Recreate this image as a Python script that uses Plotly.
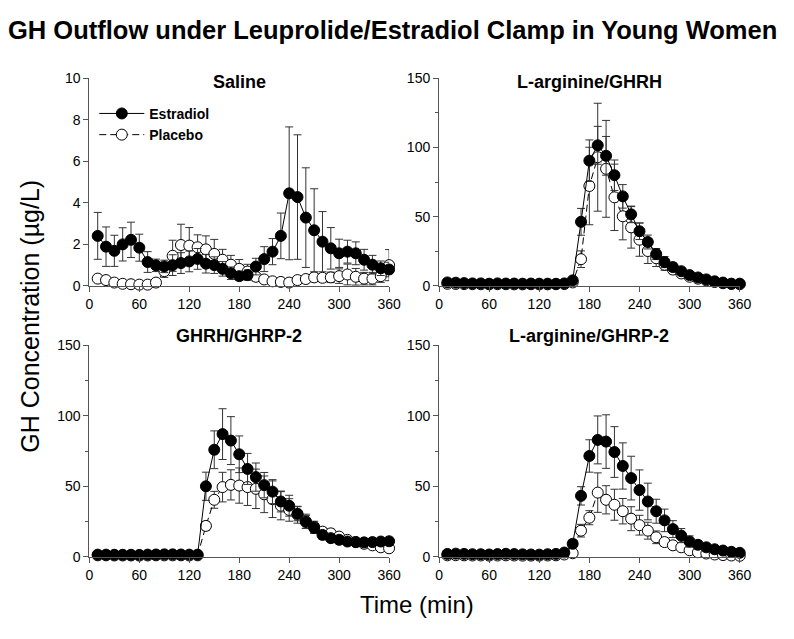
import plotly.graph_objects as go

# ---------------- data ----------------
time = list(range(10, 361, 10))

saline_e = [2.41, 1.89, 1.69, 2.0, 2.22, 1.84, 1.15, 0.99, 0.94, 1.0, 1.1, 1.18, 1.3, 1.07, 1.0, 0.82, 0.61, 0.47,
            0.52, 0.93, 1.29, 1.65, 2.41, 4.46, 4.28, 3.29, 2.68, 2.13, 1.81, 1.57, 1.65, 1.57, 1.26, 1.02, 0.85, 0.79]
saline_e_se = [1.13, 0.95, 0.75, 0.8, 0.85, 0.65, 0.5, 0.3, 0.3, 0.5, 0.5, 0.5, 0.5, 0.45, 0.4, 0.35, 0.3, 0.2,
               0.25, 0.4, 0.6, 0.63, 1.1, 3.2, 3.0, 2.4, 2.0, 1.45, 1.0, 0.68, 0.55, 0.55, 0.5, 0.45, 0.35, 0.35]
saline_p = [0.35, 0.28, 0.16, 0.1, 0.08, 0.06, 0.06, 0.16, 0.71, 1.45, 1.97, 1.94, 1.86, 1.76, 1.54, 1.26, 1.02, 0.82,
            0.69, 0.44, 0.31, 0.22, 0.19, 0.16, 0.28, 0.33, 0.41, 0.39, 0.41, 0.47, 0.55, 0.44, 0.35, 0.35, 0.47, 1.0]
saline_p_se = [0.1, 0.1, 0.08, 0.08, 0.08, 0.08, 0.08, 0.1, 0.3, 0.75, 1.0, 0.87, 0.6, 0.65, 0.7, 0.5, 0.45, 0.45,
               0.35, 0.2, 0.15, 0.12, 0.12, 0.1, 0.15, 0.15, 0.2, 0.2, 0.25, 0.35, 0.5, 0.4, 0.3, 0.3, 0.3, 0.75]

arg_ghrh_e = [2.5, 2.3, 2.0, 1.8, 1.8, 1.6, 1.8, 1.7, 1.7, 1.6, 1.7, 1.6, 1.6, 1.5, 1.8, 4.0, 46.3, 90.5,
              101.6, 94.0, 80.0, 64.7, 51.7, 39.5, 31.7, 23.0, 17.2, 13.6, 10.6, 7.8, 6.1, 4.7, 3.3, 2.4, 1.6, 1.6]
arg_ghrh_e_se = [0.8, 0.8, 0.8, 0.8, 0.8, 0.8, 0.8, 0.8, 0.8, 0.8, 0.8, 0.8, 0.8, 0.8, 0.8, 1.5, 9.7, 15,
                 13.7, 14, 11, 8.5, 6, 6, 5, 4, 4, 3, 2.5, 2, 1.5, 1.2, 1, 0.8, 0.6, 0.6]
arg_ghrh_p = [1.5, 1.4, 1.3, 1.2, 1.2, 1.1, 1.2, 1.2, 1.1, 1.1, 1.2, 1.1, 1.1, 1.2, 1.3, 2.5, 19.3, 72.2,
              93.0, 84.6, 64.0, 50.3, 42.3, 33.4, 25.2, 20.0, 15.3, 11.8, 9.0, 6.6, 5.2, 4.0, 2.8, 1.9, 1.4, 1.2]
arg_ghrh_p_se = [0.5, 0.5, 0.5, 0.5, 0.5, 0.5, 0.5, 0.5, 0.5, 0.5, 0.5, 0.5, 0.5, 0.5, 0.5, 1, 6, 28,
                 39, 35, 24, 17, 15, 12, 9, 6, 4, 3, 2.5, 2, 1.5, 1.2, 1, 0.8, 0.6, 0.5]

ghrh_ghrp_e = [1.5, 1.5, 1.4, 1.4, 1.4, 1.3, 1.5, 1.6, 1.7, 1.7, 1.6, 1.5, 1.5, 50.0, 75.9, 87.0, 82.4, 72.7,
               62.3, 56.5, 50.8, 46.2, 39.2, 36.2, 30.5, 24.7, 20.5, 15.5, 13.2, 12.0, 10.8, 10.4, 10.2, 10.4, 10.8, 11.0]
ghrh_ghrp_e_se = [0.6, 0.6, 0.6, 0.6, 0.6, 0.6, 0.6, 0.6, 0.6, 0.6, 0.6, 0.6, 0.6, 10, 13.4, 18, 17, 13,
                  11, 10, 9, 8.5, 7.4, 7.4, 5, 4.6, 4, 3, 2.5, 2, 2, 1.8, 1.8, 1.8, 1.8, 2]
ghrh_ghrp_p = [1.0, 1.0, 0.9, 0.9, 0.9, 0.8, 0.9, 1.0, 1.0, 1.0, 1.0, 0.9, 1.0, 21.9, 40.4, 49.4, 51.0, 50.5,
               49.4, 48.2, 44.3, 40.8, 36.2, 33.2, 29.8, 25.2, 21.2, 17.8, 16.6, 14.3, 12.0, 10.4, 9.2, 8.1, 6.7, 6.0]
ghrh_ghrp_p_se = [0.4, 0.4, 0.4, 0.4, 0.4, 0.4, 0.4, 0.4, 0.4, 0.4, 0.4, 0.4, 0.4, 3, 6, 10.5, 10.7, 12.5,
                  13, 14, 13, 13, 10, 8, 6, 5, 4, 3, 3, 2.5, 2, 2, 1.8, 1.5, 1.5, 1.5]

arg_ghrp_e = [2.0, 2.2, 2.0, 1.8, 1.8, 1.6, 1.9, 2.1, 1.9, 1.7, 1.6, 1.5, 1.8, 2.0, 3.0, 9.2, 43.2, 71.5,
              82.9, 81.7, 74.3, 64.4, 55.8, 47.3, 39.2, 32.3, 25.8, 19.6, 15.0, 10.8, 8.5, 6.7, 5.3, 4.4, 3.5, 2.8]
arg_ghrp_e_se = [0.6, 0.6, 0.6, 0.6, 0.6, 0.6, 0.6, 0.6, 0.6, 0.6, 0.6, 0.6, 0.6, 0.6, 1, 3, 6.5, 11.5,
                 17, 19, 18, 16.4, 15.5, 14.3, 13, 8.5, 8, 6, 5, 4, 3, 2.5, 2, 1.5, 1.2, 1]
arg_ghrp_p = [1.0, 1.1, 1.0, 0.9, 0.9, 0.8, 0.9, 1.0, 0.9, 0.8, 0.8, 0.8, 0.9, 1.0, 1.6, 2.5, 18.5, 27.7,
              45.5, 40.4, 36.9, 32.3, 27.0, 22.4, 18.5, 13.8, 10.4, 8.1, 6.7, 4.6, 3.2, 2.3, 1.6, 1.2, 0.9, 0.7]
arg_ghrp_p_se = [0.4, 0.4, 0.4, 0.4, 0.4, 0.4, 0.4, 0.4, 0.4, 0.4, 0.4, 0.4, 0.4, 0.4, 0.6, 1, 4.5, 5,
                 14, 10, 11, 9, 8.5, 7, 6, 4.5, 3, 2.5, 2, 1.5, 1.2, 1, 0.8, 0.6, 0.5, 0.4]

panel_titles = ["Saline", "L-arginine/GHRH", "GHRH/GHRP-2", "L-arginine/GHRP-2"]
x_ticks = [0, 60, 120, 180, 240, 300, 360]
series_names = ["Estradiol", "Placebo"]

panels = [
    (saline_e, saline_e_se, saline_p, saline_p_se, 10, 2, None),
    (arg_ghrh_e, arg_ghrh_e_se, arg_ghrh_p, arg_ghrh_p_se, 150, 50, 25),
    (ghrh_ghrp_e, ghrh_ghrp_e_se, ghrh_ghrp_p, ghrh_ghrp_p_se, 150, 50, 25),
    (arg_ghrp_e, arg_ghrp_e_se, arg_ghrp_p, arg_ghrp_p_se, 150, 50, 25),
]

# ---------------- layout geometry ----------------
# page body has an 8px margin, so the figure is sized to fit inside the window
OFF = 8
FW, FH = 794 - 2 * OFF, 639 - 2 * OFF


def px(p):
    return (p - OFF) / FW


def py(p):
    return 1 - (p - OFF) / FH


xdoms = [[px(87), px(393)], [px(444), px(751)]]
ydoms = [[py(285), py(72)], [py(563), py(346)]]
FONT = "Liberation Sans, Arial, sans-serif"
AX = "#555555"

fig = go.Figure()
layout = {}
annotations = []

for i, (e, ese, p, pse, ymax, dtick, minor) in enumerate(panels):
    r, c = divmod(i, 2)
    suf = "" if i == 0 else str(i + 1)
    xa, ya = "x" + suf, "y" + suf

    fig.add_trace(go.Scatter(
        x=time, y=p, mode="lines+markers", name=series_names[1],
        line=dict(color="black", width=1, dash="7px,4px"),
        marker=dict(symbol="circle", size=11, color="white", line=dict(color="black", width=1)),
        error_y=dict(type="data", array=pse, color="#333333", thickness=1, width=4),
        xaxis=xa, yaxis=ya, cliponaxis=False, showlegend=(i == 0), legendrank=2,
    ))
    fig.add_trace(go.Scatter(
        x=time, y=e, mode="lines+markers", name=series_names[0],
        line=dict(color="black", width=1),
        marker=dict(symbol="circle", size=11, color="black", line=dict(color="black", width=1)),
        error_y=dict(type="data", array=ese, color="#333333", thickness=1, width=4),
        xaxis=xa, yaxis=ya, cliponaxis=False, showlegend=(i == 0), legendrank=1,
    ))

    layout["xaxis" + suf] = dict(
        domain=xdoms[c], anchor=ya, range=[0, 360], tickvals=x_ticks,
        showline=True, linecolor=AX, linewidth=1, ticks="outside", ticklen=5, tickcolor=AX,
        showgrid=False, zeroline=False, tickfont=dict(size=14, color="black", family=FONT),
    )
    yax = dict(
        domain=ydoms[r], anchor=xa, range=[0, ymax], dtick=dtick,
        showline=True, linecolor=AX, linewidth=1, ticks="outside", ticklen=5, tickcolor=AX,
        showgrid=False, zeroline=False, tickfont=dict(size=14, color="black", family=FONT),
    )
    if minor:
        yax["minor"] = dict(dtick=minor, ticks="outside", ticklen=3, tickcolor=AX, showgrid=False)
    layout["yaxis" + suf] = yax

    title_y = py(76) if r == 0 else py(336)
    annotations.append(dict(
        text=panel_titles[i], x=sum(xdoms[c]) / 2, y=title_y, xref="paper", yref="paper",
        showarrow=False, xanchor="center", yanchor="middle",
        font=dict(size=18, family=FONT, color="black", weight="bold"),
    ))

annotations += [
    dict(text="GH Outflow under Leuprolide/Estradiol Clamp in Young Women", x=px(396), y=py(22),
         xref="paper", yref="paper", showarrow=False, xanchor="center", yanchor="middle",
         font=dict(size=25.5, family=FONT, color="black", weight="bold")),
    dict(text="GH Concentration (µg/L)", x=px(26), y=py(316), xref="paper", yref="paper",
         showarrow=False, xanchor="center", yanchor="middle", textangle=-90,
         font=dict(size=25, family=FONT, color="black")),
    dict(text="Time (min)", x=px(421), y=py(612), xref="paper", yref="paper",
         showarrow=False, xanchor="center", yanchor="middle",
         font=dict(size=24, family=FONT, color="black")),
]

fig.update_layout(
    width=FW, height=FH,
    margin=dict(l=0, r=0, t=0, b=0),
    paper_bgcolor="white", plot_bgcolor="white",
    font=dict(family=FONT, color="black"),
    annotations=annotations,
    legend=dict(x=px(92), y=py(92), xanchor="left", yanchor="top",
                bgcolor="rgba(0,0,0,0)", font=dict(size=14, family=FONT, weight="bold"),
                itemwidth=45),
    **layout,
)

fig.write_html("out.html")
